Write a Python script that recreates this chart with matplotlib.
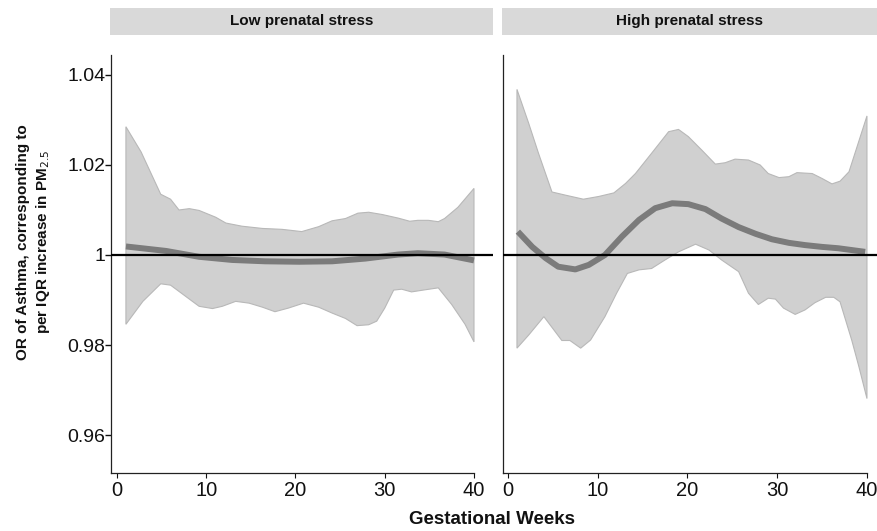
import matplotlib
matplotlib.use("Agg")
import matplotlib.pyplot as plt
import numpy as np

plt.rcParams['font.family'] = ['Liberation Sans', 'DejaVu Sans']

# ---------------- data ----------------
panel_titles = ["Low prenatal stress", "High prenatal stress"]
x_ticks = [0, 10, 20, 30, 40]
y_ticks = [0.96, 0.98, 1.00, 1.02, 1.04]
y_tick_labels = ["0.96", "0.98", "1", "1.02", "1.04"]

# Low prenatal stress
low_upper_wk = [1, 2.7, 4.9, 6.0, 6.95, 8.1, 9.2, 11.05, 12.2, 14.0, 16.3, 18.5, 20.7, 22.6,
                24.1, 25.6, 27.0, 28.2, 29.7, 31.5, 32.8, 33.7, 34.9, 36.0, 36.7, 38.2, 40]
low_upper = [1.0285, 1.0229, 1.0135, 1.0124, 1.0100, 1.0103, 1.0099, 1.0084, 1.0071, 1.0064,
             1.0059, 1.0057, 1.0052, 1.0063, 1.0076, 1.0081, 1.0093, 1.0095, 1.0090, 1.0082,
             1.0075, 1.0077, 1.0077, 1.0074, 1.0081, 1.0106, 1.0148]
low_lower_wk = [1, 2.9, 4.9, 6.0, 7.7, 9.2, 10.7, 11.8, 13.3, 14.8, 16.3, 17.7, 19.2, 20.9,
                22.6, 24.1, 25.6, 26.9, 28.2, 29.1, 30.0, 31.0, 31.9, 33.0, 34.3, 36.0, 37.5,
                39.0, 40]
low_lower = [0.9846, 0.9897, 0.9936, 0.9933, 0.9908, 0.9886, 0.9881, 0.9886, 0.9897, 0.9893,
             0.9884, 0.9874, 0.9882, 0.9893, 0.9884, 0.9871, 0.9859, 0.9843, 0.9845, 0.9853,
             0.9882, 0.9922, 0.9924, 0.9918, 0.9922, 0.9927, 0.9890, 0.9846, 0.9807]
low_est_wk = [1, 5.5, 9.2, 12.9, 16.6, 20.4, 24.1, 27.8, 31.5, 33.7, 36.7, 40]
low_est = [1.0019, 1.0009, 0.9996, 0.9989, 0.9986, 0.9985, 0.9986, 0.9992, 1.0001, 1.0004,
           1.0001, 0.9988]

# High prenatal stress
high_upper_wk = [1, 2.3, 3.4, 4.9, 6.4, 8.4, 10.1, 11.8, 13.1, 14.2, 16.0, 17.9, 19.0, 20.1,
                 21.6, 23.1, 24.2, 25.3, 26.8, 28.1, 29.0, 30.2, 31.3, 32.2, 33.9, 35.0, 36.1,
                 37.0, 38.0, 40]
high_upper = [1.0368, 1.0293, 1.0226, 1.0140, 1.0133, 1.0124, 1.0130, 1.0138, 1.0159, 1.0181,
              1.0226, 1.0274, 1.0279, 1.0263, 1.0233, 1.0202, 1.0205, 1.0213, 1.0211, 1.0200,
              1.0181, 1.0172, 1.0174, 1.0183, 1.0181, 1.0170, 1.0158, 1.0164, 1.0185, 1.0309]
high_lower_wk = [1, 2.3, 4.0, 6.0, 6.9, 8.1, 9.2, 10.8, 12.1, 13.3, 14.6, 16.0, 17.5, 19.0,
                 20.9, 22.4, 23.8, 25.7, 26.8, 27.9, 29.0, 29.8, 30.7, 32.0, 33.1, 34.2, 35.4,
                 36.3, 37.0, 38.3, 39.1, 40]
high_lower = [0.9793, 0.9822, 0.9863, 0.9810, 0.9810, 0.9793, 0.9811, 0.9863, 0.9915, 0.9959,
              0.9967, 0.9970, 0.9989, 1.0007, 1.0024, 1.0011, 0.9989, 0.9963, 0.9915, 0.9890,
              0.9904, 0.9902, 0.9882, 0.9868, 0.9878, 0.9894, 0.9906, 0.9906, 0.9896, 0.9811,
              0.9752, 0.9681]
high_est_wk = [1.1, 2.7, 4.2, 5.6, 7.5, 9.0, 10.8, 12.7, 14.6, 16.4, 18.3, 20.1, 22.0, 23.8,
               25.7, 27.6, 29.4, 31.3, 33.1, 35.0, 36.8, 39.8]
high_est = [1.0052, 1.0018, 0.9993, 0.9974, 0.9968, 0.9978, 1.0000, 1.0041, 1.0078, 1.0104,
            1.0115, 1.0113, 1.0102, 1.0081, 1.0062, 1.0047, 1.0035, 1.0027, 1.0022, 1.0018,
            1.0015, 1.0007]

reference_or = 1.0

panels = [
    (low_upper_wk, low_upper, low_lower_wk, low_lower, low_est_wk, low_est),
    (high_upper_wk, high_upper, high_lower_wk, high_lower, high_est_wk, high_est),
]

# ---------------- figure ----------------
W, H = 878, 531
fig = plt.figure(figsize=(W / 100, H / 100), dpi=100)

def fx(px):
    return px / W

def fy(py):
    return 1 - py / H

axes_px = [(111, 493), (503, 878)]
xlims = [(-0.672, 42.13), (-0.557, 41.23)]
strip_px = [(110, 493), (502, 878)]
ylim = (0.95156, 1.04444)
top_px, bot_px = 55, 473

band_color = "#d0d0d0"
band_edge = "#b8b8b8"
line_color = "#7b7b7b"

for i, (uwk, up, lwk, lo, ewk, est) in enumerate(panels):
    x0, x1 = axes_px[i]
    ax = fig.add_axes([fx(x0), fy(bot_px), fx(x1 - x0), (bot_px - top_px) / H])
    ax.set_xlim(*xlims[i])
    ax.set_ylim(*ylim)

    poly_x = np.concatenate([np.asarray(uwk), np.asarray(lwk)[::-1]])
    poly_y = np.concatenate([np.asarray(up), np.asarray(lo)[::-1]])
    ax.fill(poly_x, poly_y, facecolor=band_color, edgecolor=band_edge, linewidth=0.8, zorder=1)
    ax.plot(ewk, est, color=line_color, linewidth=4.3, solid_capstyle="butt", zorder=2)
    ax.axhline(reference_or, color="black", linewidth=1.6, zorder=3)

    for s in ["top", "right"]:
        ax.spines[s].set_visible(False)
    ax.spines["left"].set_color("#222222")
    ax.spines["left"].set_linewidth(0.9)
    ax.spines["bottom"].set_color("#222222")
    ax.spines["bottom"].set_linewidth(0.9)
    ax.spines["bottom"].set_bounds(xlims[i][0], 40)

    ax.set_xticks(x_ticks)
    ax.set_xticklabels([str(t) for t in x_ticks], fontsize=14.5)
    ax.tick_params(axis="x", length=3.5, width=0.8, pad=2, colors="#111111")
    if i == 0:
        ax.set_yticks(y_ticks)
        ax.set_yticklabels(y_tick_labels, fontsize=14)
        ax.tick_params(axis="y", length=4, width=1.0, pad=0, colors="#111111")
    else:
        ax.set_yticks([])

    # strip
    sx0, sx1 = strip_px[i]
    sax = fig.add_axes([fx(sx0), fy(35), fx(sx1 - sx0), 27 / H])
    sax.set_facecolor("#d9d9d9")
    sax.set_xticks([]); sax.set_yticks([])
    for s in sax.spines.values():
        s.set_visible(False)
    sax.text(0.5, 0.5, panel_titles[i], ha="center", va="center",
             fontsize=11, fontweight="bold", color="#111111", transform=sax.transAxes)

fig.text(fx(34), fy(242), "OR of Asthma, corresponding to\nper IQR increase in PM$_{2.5}$",
         rotation=90, ha="center", va="center", fontsize=11, fontweight="bold",
         linespacing=1.35, color="#111111")
fig.text(fx(492), fy(520), "Gestational Weeks", ha="center", va="center",
         fontsize=13.5, fontweight="bold", color="#111111")

fig.savefig("out.png", dpi=100)
